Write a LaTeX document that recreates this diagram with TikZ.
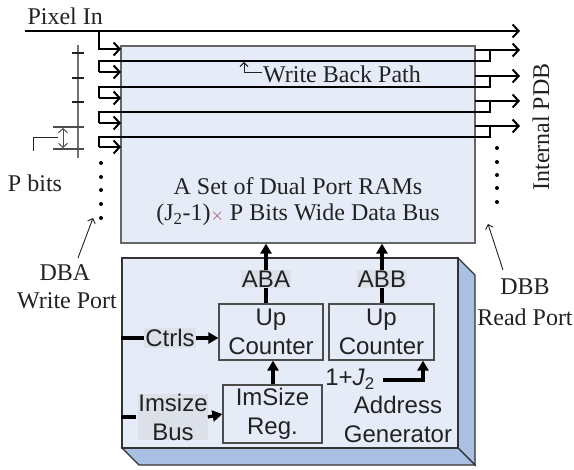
\documentclass[tikz,border=0pt]{standalone}
\usepackage{fontspec}
\setmainfont{Liberation Serif}
\setsansfont{Liberation Sans}
\usetikzlibrary{arrows.meta,calc}
\definecolor{face}{HTML}{E6ECF7}
\definecolor{side}{HTML}{A9C0E2}
\definecolor{ink}{HTML}{222222}
\definecolor{tagbg}{HTML}{DCE1E9}
\definecolor{timescol}{HTML}{A0407A}
\begin{document}
\begin{tikzpicture}[x=1pt,y=-1pt,
  every node/.style={text=ink},
  font=\fontsize{24}{29}\selectfont,
  bus/.style={draw=black, line width=2pt, -{Straight Barb[length=6pt,width=13pt,line width=2pt]}},
  busline/.style={draw=black, line width=2pt},
  pointer/.style={draw=ink, line width=0.9pt, -{Straight Barb[length=4pt,width=8pt,line width=0.9pt]}},
  rambox/.style={draw=black!60, line width=1.2pt, fill=face},
  unit/.style={draw=black!70, line width=1.2pt, fill=face, font=\sffamily\fontsize{24}{29}\selectfont, align=center, inner sep=0pt},
  tag/.style={fill=tagbg, font=\sffamily\fontsize{24}{29}\selectfont, align=center, inner sep=1pt},
  ctl/.style={draw=black, line width=3.2pt, -{Triangle[length=10pt,width=11pt]}},
  ctlline/.style={draw=black, line width=3.2pt},
  dot/.style={circle, fill=black, inner sep=0pt, minimum size=4pt}
]
\useasboundingbox (0,0) rectangle (574,470);

% ---- dual-port RAM array ----
\node[rambox, minimum width=354pt, minimum height=197pt] (ram) at (298,144.5) {};
\node at (298,186) {A Set of Dual Port RAMs};
\node at (298,215) {(J\textsubscript{2}-1)\textcolor{timescol}{\fontsize{16}{16}\selectfont$\times$} P Bits Wide Data Bus};

% ---- pixel input bus ----
\node[anchor=west] (pin) at (24,16) {Pixel In};
\coordinate (pinL) at (25,31);
\coordinate (pinR) at (520,31);
\coordinate (tap) at (99,31);
\draw[bus] (pinL) -- (pinR);
\draw[bus] (tap) -- (99,49) -- (121,49);

% ---- write-back loops and internal PDB taps ----
\foreach \y/\ya/\yb in {61/50/72, 87/76/98, 112/101/123, 137/126/147}{
  \draw[busline] (490,\ya) -- (490,\y) -- (99,\y) -- (99,\yb);
  \draw[bus] (99,\yb) -- (121,\yb);
  \draw[bus] (475,\ya) -- (520,\ya);
}

% write-back label
\draw[pointer] (262,72) -- (244,72) -- (244,62);
\node[anchor=west, inner sep=0pt] (wbp) at (263,74) {Write Back Path};

% ---- bit ruler ----
\draw[black!55, line width=1.1pt] (78,45) -- (78,158);
\foreach \t in {53,78,102}{
  \draw[ink, line width=1.1pt] (72,\t) -- (84,\t);
}
\draw[black!70, line width=1.1pt] (53,127) -- (84,127);
\draw[black!70, line width=1.1pt] (53,149) -- (84,149);
\draw[black!70, line width=1pt, {Straight Barb[length=4pt,width=9pt]}-{Straight Barb[length=4pt,width=9pt]}] (63,128) -- (63,148);
\draw[ink, line width=1pt] (33,151) -- (33,138) -- (58,138);
\node (pbits) at (35,183) {P bits};

% ---- continuation dots ----
\foreach \y in {163,177,190,204,218} \node[dot] at (101,\y) {};
\foreach \y in {148,162,175,188,202} \node[dot] at (497,\y) {};

% ---- port labels ----
\node (dba) at (65,273) {DBA};
\node (wport) at (67,301) {Write Port};
\coordinate (dbaTip) at (93,218);
\draw[pointer] (78,258) -- (dbaTip);
\node (dbb) at (525,287) {DBB};
\node (rport) at (525,317) {Read Port};
\coordinate (dbbTip) at (488,224);
\draw[pointer] (503,270) -- (dbbTip);
\node[rotate=90] (pdb) at (541,127) {Internal PDB};

% ---- address generator block (3D slab) ----
\fill[side, draw=black!80, line width=1.2pt] (458,258) -- (475,275) -- (475,465) -- (458,448) -- cycle;
\fill[side, draw=black!80, line width=1.2pt] (122,448) -- (458,448) -- (475,465) -- (139,465) -- cycle;
\node[draw=black!80, line width=1.4pt, fill=face, minimum width=336pt, minimum height=190pt] (gen) at (290,353) {};

\node[unit, minimum width=104pt, minimum height=56pt] (cntA) at (271,332) {Up\\Counter};
\node[unit, minimum width=105pt, minimum height=56pt] (cntB) at (381.5,332) {Up\\Counter};
\node[unit, minimum width=99pt, minimum height=58pt] (reg) at (272.5,414) {ImSize\\Reg.};

\node[tag] (aba) at (266,279) {ABA};
\node[tag] (abb) at (382,279) {ABB};
\draw[ctlline] (aba.south |- cntA.north) -- (aba.south);
\draw[ctlline] (abb.south |- cntB.north) -- (abb.south);
\draw[ctl] (aba.north) -- (aba.north |- ram.south);
\draw[ctl] (abb.north) -- (abb.north |- ram.south);

\node[tag] (ctrls) at (170,338) {Ctrls};
\draw[ctlline] (gen.west |- ctrls) -- (ctrls.west);
\draw[ctl] (ctrls.east) -- (cntA.west |- ctrls);

\node[tag, inner sep=0pt] (imbus) at (173,417) {Imsize\\Bus};
\coordinate (imstub) at (136,417);
\draw[ctlline] (gen.west |- imbus) -- (imstub);
\draw[ctl] (imbus.east) -- (reg.west);

\draw[ctl] (reg.north -| 273,0) -- (273,0 |- cntA.south);

\node[font=\sffamily\fontsize{24}{29}\selectfont] (jin) at (350,379) {1+\textit{J}\textsubscript{2}};
\draw[ctl] (383,380) -- (423,380) -- (423,0 |- cntB.south);

\node[font=\sffamily\fontsize{24}{29}\selectfont, align=center, inner sep=0pt] (agen) at (398,419) {Address\\Generator};
\end{tikzpicture}
\end{document}
